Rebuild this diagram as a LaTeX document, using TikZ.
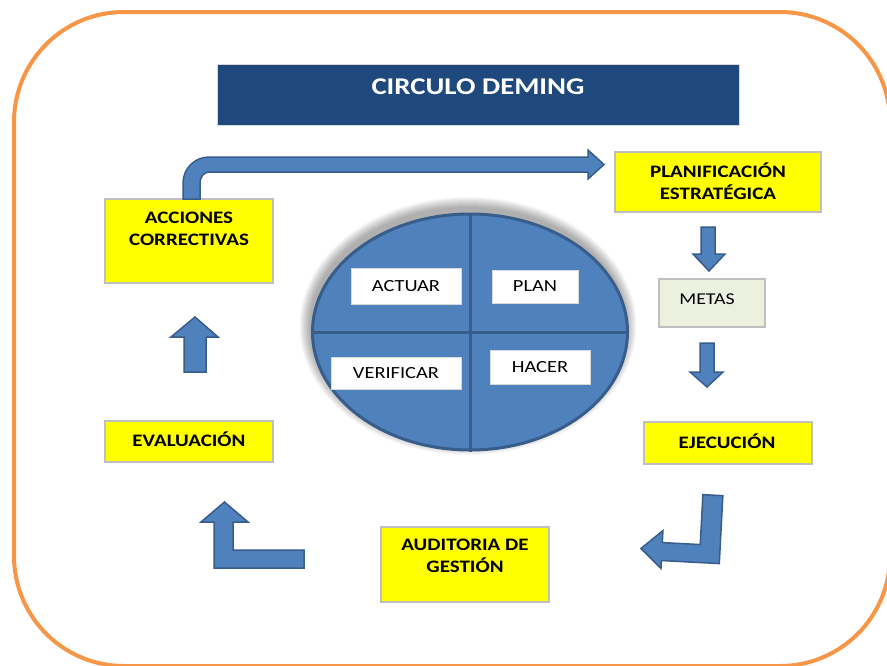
\documentclass[tikz,border=0pt]{standalone}
\usepackage{fontspec}
\setmainfont[FakeStretch=1.2]{Carlito}
\usetikzlibrary{shapes.geometric}

\definecolor{frameorange}{HTML}{F79646}
\definecolor{titleblue}{HTML}{1F497D}
\definecolor{hiyellow}{HTML}{FFFF00}
\definecolor{boxedge}{HTML}{BFBFBF}
\definecolor{softedge}{HTML}{D9D9D9}
\definecolor{metafill}{HTML}{EBF1DE}
\definecolor{pdcablue}{HTML}{4F81BD}
\definecolor{pdcaedge}{HTML}{385D8A}

\begin{document}
\begin{tikzpicture}[x=1pt,y=-1pt,
  ybox/.style={draw=boxedge, line width=1.2pt, fill=hiyellow, inner sep=0pt},
  wbox/.style={draw=softedge, line width=1pt, fill=white, inner sep=0pt,
               font=\fontsize{17}{20}\selectfont},
  blbl/.style={font=\bfseries\fontsize{17.5}{22}\selectfont, align=center,
               text=black, inner sep=0pt},
  blockarrow/.style={fill=pdcablue, draw=pdcaedge, line width=1.5pt, line join=miter}]

% page and outer frame
\useasboundingbox (0,0) rectangle (887,665);
\fill[white] (0,0) rectangle (887,665);
\clip (0,0) rectangle (887,665);
\draw[frameorange, line width=4pt, rounded corners=110pt] (14,12) rectangle (890,666);

% title bar
\node[fill=titleblue, draw=softedge, line width=0.8pt, minimum width=522pt,
      minimum height=61pt, inner sep=0pt] (title) at (478,94.5) {};
\node[text=white, font=\bfseries\fontsize{24}{28}\selectfont, inner sep=0pt]
      (titletext) at (478,87) {CIRCULO DEMING};

% process boxes
\node[ybox, minimum width=206pt, minimum height=60pt] (plan) at (718,182) {};
\node[ybox, minimum width=168pt, minimum height=84pt] (acc)  at (189,241) {};
\node[draw=boxedge, line width=1.2pt, fill=metafill, inner sep=0pt,
      minimum width=106pt, minimum height=48pt] (metas) at (712,303) {};
\node[ybox, minimum width=168pt, minimum height=42pt] (ejec) at (728,443) {};
\node[ybox, minimum width=168pt, minimum height=41pt] (eval) at (189,441.5) {};
\node[ybox, minimum width=168pt, minimum height=75pt] (aud)  at (465,564.5) {};

\node[blbl] (plantext) at (718,181.5) {PLANIFICACIÓN\\ESTRATÉGICA};
\node[blbl] (acctext)  at (189,229) {ACCIONES\\CORRECTIVAS};
\node[inner sep=0pt, font=\fontsize{16.5}{20}\selectfont] (metastext) at (707,299) {METAS};
\node[blbl] (ejectext) at (727,441) {EJECUCIÓN};
\node[blbl] (evaltext) at (189,439) {EVALUACIÓN};
\node[blbl] (audtext)  at (465,556) {AUDITORIA DE\\GESTIÓN};

% soft shadow round the PDCA disc
\foreach \r in {1,...,11}{
  \pgfmathsetmacro{\rx}{157.5+\r}
  \pgfmathsetmacro{\ry}{118+\r}
  \fill[black, opacity=0.03] (468,326) ellipse [x radius=\rx pt, y radius=\ry pt];
}

% PDCA disc with its four quadrants
\node[ellipse, fill=pdcablue, draw=pdcaedge, line width=3pt, inner sep=0pt,
      minimum width=315pt, minimum height=236pt] (pdca) at (470,332) {};
\draw[pdcaedge, line width=3pt] (pdca.north) -- (pdca.south);
\draw[pdcaedge, line width=3pt] (pdca.west) -- (pdca.east);

\node[wbox, minimum width=110pt, minimum height=36pt] (actuar) at (406,286) {ACTUAR};
\node[wbox, minimum width=86pt,  minimum height=33pt] (plano)  at (535,286.5) {PLAN};
\node[wbox, minimum width=130pt, minimum height=32pt] (verif)  at (396,373) {VERIFICAR};
\node[wbox, minimum width=100pt, minimum height=34pt] (hacer)  at (540,367) {HACER};

% bent arrow from the corrective actions to the strategic plan
\draw[blockarrow] (183,199) -- (183,183)
  arc[start angle=180, end angle=90, radius=26pt] -- (588,157) -- (588,150)
  -- (604,164.5) -- (588,179) -- (588,172) -- (209,172)
  arc[start angle=90, end angle=180, x radius=9pt, y radius=11pt] -- (200,199) -- cycle;

% straight block arrows
\draw[blockarrow] (701,227) -- (715,227) -- (715,254) -- (725,254) -- (709,271)
  -- (693,254) -- (701,254) -- cycle;
\draw[blockarrow] (700,343) -- (714,343) -- (714,372) -- (723,372) -- (707,387)
  -- (690,372) -- (700,372) -- cycle;
\draw[blockarrow] (184,372) -- (206,372) -- (206,337) -- (218,337) -- (195,317)
  -- (171,337) -- (184,337) -- cycle;

% L-shaped block arrows
\draw[blockarrow] (214,568) -- (304,568) -- (304,550) -- (233,550) -- (233,522)
  -- (248,522) -- (224.5,502) -- (201,522) -- (214,522) -- cycle;
\begin{scope}[rotate around={-3:(690,530)}]
\draw[blockarrow] (701,494) -- (721,494) -- (721,562) -- (663,562) -- (663,570)
  -- (642,551) -- (663,532) -- (663,544) -- (701,544) -- cycle;
\end{scope}
\end{tikzpicture}
\end{document}
